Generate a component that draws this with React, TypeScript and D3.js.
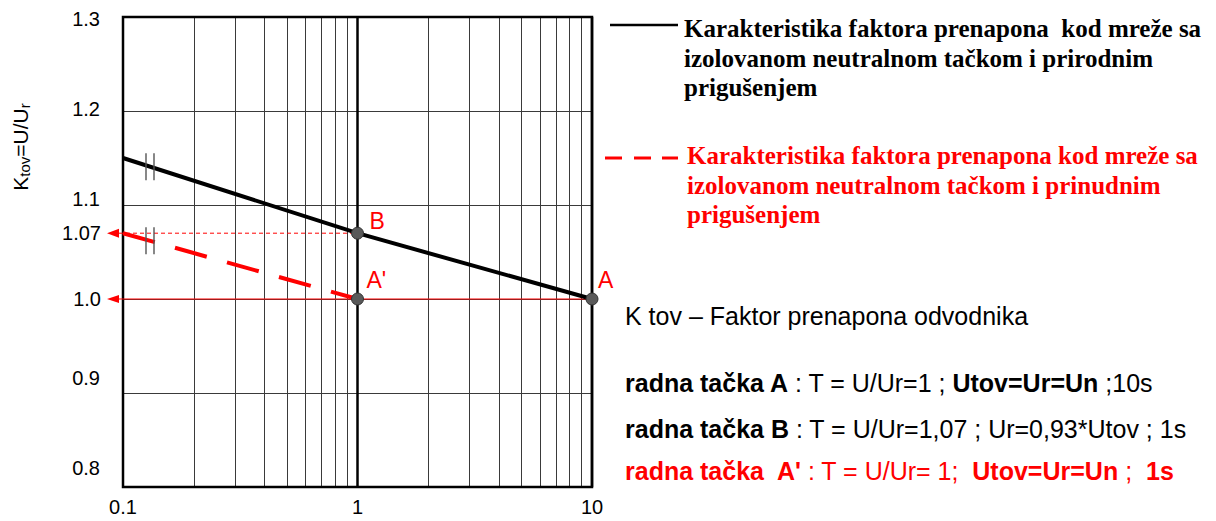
import React from "react";
import * as d3 from "d3";

// Overvoltage factor characteristics (K_tov vs time, log scale)
const xDomain = [0.1, 10];
const yDomain = [0.8, 1.3];
const xTickLabels = [0.1, 1, 10];
const xMajorLines = [1, 10];
const yGridValues = [1.2, 1.1, 1.0, 0.9];
const yTickLabels = [1.3, 1.2, 1.1, 0.9, 0.8];
const yArrowLabels = [
  { k: 1.07, text: "1.07" },
  { k: 1.0, text: "1.0" },
];

// natural damping (black, solid) and forced damping (red, dashed)
const naturalDamping = [
  { t: 0.1, k: 1.15 },
  { t: 1, k: 1.07 },
  { t: 10, k: 1.0 },
];
const forcedDamping = [
  { t: 0.1, k: 1.07 },
  { t: 1, k: 1.0 },
];

const workingPoints = [
  { name: "B", t: 1, k: 1.07 },
  { name: "A'", t: 1, k: 1.0 },
  { name: "A", t: 10, k: 1.0 },
];

const legendNatural = [
  "Karakteristika faktora prenapona  kod mreže sa",
  "izolovanom neutralnom tačkom i prirodnim",
  "prigušenjem",
];
const legendForced = [
  "Karakteristika faktora prenapona kod mreže sa",
  "izolovanom neutralnom tačkom i prinudnim",
  "prigušenjem",
];

const noteTitle = "K tov – Faktor prenapona odvodnika";
const notePointA = [
  { text: "radna tačka A", bold: true },
  { text: " : T = U/Ur=1 ; ", bold: false },
  { text: "Utov=Ur=Un", bold: true },
  { text: " ;10s", bold: false },
];
const notePointB = [
  { text: "radna tačka B", bold: true },
  { text: " : T = U/Ur=1,07 ; Ur=0,93*Utov ; 1s", bold: false },
];
const notePointA2 = [
  { text: "radna tačka  A'", bold: true },
  { text: " : T = U/Ur= 1;  ", bold: false },
  { text: "Utov=Ur=Un", bold: true },
  { text: " ;  ", bold: false },
  { text: "1s", bold: true },
];

const SANS = "'Liberation Sans', Arial, sans-serif";
const SERIF = "'Liberation Serif', 'Times New Roman', serif";
const RED = "#ff0000";

const W = 1216;
const H = 521;
const plot = { left: 123, right: 592, top: 17, bottom: 487 };

const pointLabelOffset: Record<string, [number, number]> = {
  B: [12, -4],
  "A'": [9, -11],
  A: [6, -11],
};

// legend swatch for the dashed series: three short dashes
const legendDashes: [number, number][] = [
  [605, 622],
  [634, 651],
  [662, 678],
];

export default function App() {
  const x = d3.scaleLog().domain(xDomain).range([plot.left, plot.right]);
  const y = d3.scaleLinear().domain(yDomain).range([plot.bottom, plot.top]);
  // tick text sits slightly off the grid rows
  const yLabel = d3.scaleLinear().domain(yDomain).range([468, 19]);

  const line = d3
    .line<{ t: number; k: number }>()
    .x((d) => x(d.t))
    .y((d) => y(d.k));

  const minorX = x.ticks().filter((t) => t > xDomain[0] * 1.001 && !xMajorLines.some((m) => Math.abs(m - t) < 1e-9));

  // y of a polyline at a given pixel x
  const yAt = (pts: { t: number; k: number }[], px: number) => {
    for (let i = 0; i < pts.length - 1; i++) {
      const x0 = x(pts[i].t), x1 = x(pts[i + 1].t);
      if (px >= x0 && px <= x1) {
        const f = (px - x0) / (x1 - x0);
        return y(pts[i].k) + f * (y(pts[i + 1].k) - y(pts[i].k));
      }
    }
    return y(pts[0].k);
  };

  const breakXs = [plot.left + 23, plot.left + 31];
  const breakCenters = [yAt(naturalDamping, plot.left + 27), yAt(forcedDamping, plot.left + 27)];

  const arrowTip = plot.left - 16;
  const arrowBase = plot.left - 4;

  const renderNote = (segs: { text: string; bold: boolean }[], yy: number, color: string) => (
    <text x={625} y={yy} fontFamily={SANS} fontSize={25} fill={color} style={{ whiteSpace: "pre" }}>
      {segs.map((s, i) => (
        <tspan key={i} fontWeight={s.bold ? "bold" : "normal"}>
          {s.text}
        </tspan>
      ))}
    </text>
  );

  return (
    <svg
      width={W}
      height={H}
      viewBox={`0 0 ${W} ${H}`}
      style={{ position: "absolute", left: 0, top: 0, background: "#fff" }}
    >
      <rect x={0} y={0} width={W} height={H} fill="#fff" />

      {/* minor vertical grid */}
      {minorX.map((t) => (
        <line
          key={`vx${t}`}
          x1={Math.round(x(t)) + 0.5}
          x2={Math.round(x(t)) + 0.5}
          y1={plot.top}
          y2={plot.bottom}
          stroke="#3a3a3a"
          strokeWidth={1}
        />
      ))}

      {/* horizontal grid */}
      {yGridValues.map((k) => (
        <line
          key={`hy${k}`}
          x1={plot.left}
          x2={plot.right}
          y1={Math.round(y(k)) + 0.5}
          y2={Math.round(y(k)) + 0.5}
          stroke="#3a3a3a"
          strokeWidth={1}
        />
      ))}

      {/* decade lines */}
      {xMajorLines.map((t) => (
        <line key={`mx${t}`} x1={x(t)} x2={x(t)} y1={plot.top} y2={plot.bottom} stroke="#000" strokeWidth={2.5} />
      ))}
      <rect
        x={plot.left}
        y={plot.top}
        width={plot.right - plot.left}
        height={plot.bottom - plot.top}
        fill="none"
        stroke="#000"
        strokeWidth={2.5}
      />

      {/* reference arrows to the K axis */}
      <line x1={arrowBase} x2={x(10)} y1={y(1.0)} y2={y(1.0)} stroke={RED} strokeWidth={1.2} />
      <polygon
        points={`${arrowTip},${y(1.0)} ${arrowBase},${y(1.0) - 4} ${arrowBase},${y(1.0) + 4}`}
        fill={RED}
      />
      <line
        x1={arrowBase}
        x2={x(1)}
        y1={y(1.07)}
        y2={y(1.07)}
        stroke={RED}
        strokeWidth={1}
        strokeDasharray="4 3"
      />
      <polygon
        points={`${arrowTip},${y(1.07)} ${arrowBase},${y(1.07) - 4.5} ${arrowBase},${y(1.07) + 4.5}`}
        fill={RED}
      />

      {/* characteristics */}
      <path d={line(naturalDamping) || ""} fill="none" stroke="#000" strokeWidth={4} />
      <path d={line(forcedDamping) || ""} fill="none" stroke={RED} strokeWidth={4} strokeDasharray="33 21" />

      {/* axis break marks */}
      {breakCenters.map((cy, i) =>
        breakXs.map((bx) => (
          <line
            key={`br${i}-${bx}`}
            x1={bx}
            x2={bx}
            y1={cy - 13.5}
            y2={cy + 13.5}
            stroke="#555"
            strokeWidth={1.4}
          />
        ))
      )}

      {/* working points */}
      {workingPoints.map((p) => (
        <g key={p.name}>
          <circle cx={x(p.t)} cy={y(p.k)} r={6} fill="#595959" stroke="#333" strokeWidth={1} />
          <text
            x={x(p.t) + pointLabelOffset[p.name][0]}
            y={y(p.k) + pointLabelOffset[p.name][1]}
            fontFamily={SANS}
            fontSize={23}
            fill={RED}
          >
            {p.name}
          </text>
        </g>
      ))}

      {/* y tick labels */}
      {yTickLabels.map((k) => (
        <text
          key={`yl${k}`}
          x={100}
          y={yLabel(k)}
          dominantBaseline="central"
          textAnchor="end"
          fontFamily={SANS}
          fontSize={20}
          fill="#000"
        >
          {k.toFixed(1)}
        </text>
      ))}
      {yArrowLabels.map((l) => (
        <text
          key={`ya${l.k}`}
          x={101}
          y={y(l.k)}
          dominantBaseline="central"
          textAnchor="end"
          fontFamily={SANS}
          fontSize={20}
          fill="#000"
        >
          {l.text}
        </text>
      ))}

      {/* x tick labels */}
      {xTickLabels.map((t) => (
        <text
          key={`xl${t}`}
          x={x(t)}
          y={514}
          textAnchor="middle"
          fontFamily={SANS}
          fontSize={20}
          fill="#000"
        >
          {String(t)}
        </text>
      ))}

      {/* y axis title */}
      <text
        transform={`translate(28, 147) rotate(-90)`}
        textAnchor="middle"
        fontFamily={SANS}
        fontSize={21}
        fill="#000"
      >
        <tspan>K</tspan>
        <tspan fontSize={15} dy={2}>tov</tspan>
        <tspan dy={-2}>=U/U</tspan>
        <tspan fontSize={15} dy={2}>r</tspan>
      </text>

      {/* legend */}
      <line x1={610} x2={678} y1={25} y2={25} stroke="#000" strokeWidth={2.5} />
      {legendNatural.map((s, i) => (
        <text
          key={`ln${i}`}
          x={684}
          y={37 + i * 29.5}
          fontFamily={SERIF}
          fontWeight="bold"
          fontSize={25}
          fill="#000"
          style={{ whiteSpace: "pre" }}
        >
          {s}
        </text>
      ))}
      {legendDashes.map(([a, b], i) => (
        <line key={`ld${i}`} x1={a} x2={b} y1={158} y2={158} stroke={RED} strokeWidth={3} />
      ))}
      {legendForced.map((s, i) => (
        <text
          key={`lf${i}`}
          x={687}
          y={164 + i * 29.5}
          fontFamily={SERIF}
          fontWeight="bold"
          fontSize={25}
          fill={RED}
          style={{ whiteSpace: "pre" }}
        >
          {s}
        </text>
      ))}

      {/* notes */}
      <text x={625} y={325} fontFamily={SANS} fontSize={25} fill="#000">
        {noteTitle}
      </text>
      {renderNote(notePointA, 392, "#000")}
      {renderNote(notePointB, 438, "#000")}
      {renderNote(notePointA2, 480, RED)}
    </svg>
  );
}
